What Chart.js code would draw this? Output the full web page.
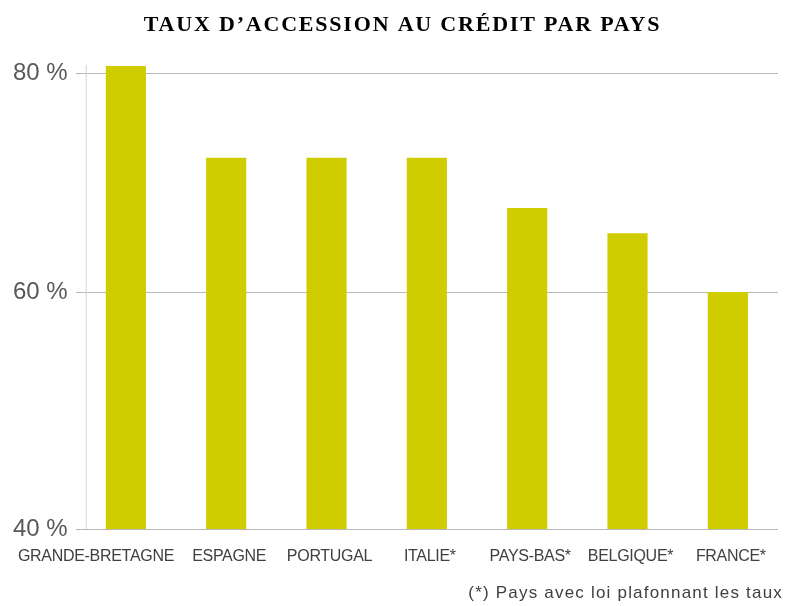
<!DOCTYPE html>
<html lang="fr">
<head>
<meta charset="utf-8">
<title>Taux d'accession au crédit par pays</title>
<script src="https://cdn.jsdelivr.net/npm/chart.js@4/dist/chart.umd.min.js"></script>
<style>
  html, body { margin: 0; padding: 0; background: #fff; }
  #graf { display: block; }
</style>
</head>
<body>
<canvas id="graf" width="785" height="606"></canvas>
<script>
// pays et taux d'accession (%)
var pays = ["GRANDE-BRETAGNE", "ESPAGNE", "PORTUGAL", "ITALIE*", "PAYS-BAS*", "BELGIQUE*", "FRANCE*"];
var taux = [80.7, 72.3, 72.3, 72.3, 67.7, 65.4, 60];

// axe vertical : le bas de l'axe est libellé 40 %
var yMin = 38.3;
var yMax = 80.8;
var yTicks = [yMin, 60, 80];
var yLabels = ["40 %", "60 %", "80 %"];

var titre = "TAUX D\u2019ACCESSION AU CRÉDIT PAR PAYS";
var note = "(*) Pays avec loi plafonnant les taux";

var sans = "'Liberation Sans', Arial, sans-serif";
var serif = "'Liberation Serif', 'Times New Roman', serif";

// trait vertical de l'axe, un peu décalé dans la zone du graphique
var axeVertical = {
    id: "axeVertical",
    beforeDatasetsDraw: function (chart) {
        var ctx = chart.ctx;
        var a = chart.chartArea;
        ctx.save();
        ctx.strokeStyle = "#d4d4d4";
        ctx.lineWidth = 1;
        ctx.beginPath();
        ctx.moveTo(a.left + 10.5, a.top);
        ctx.lineTo(a.left + 10.5, a.bottom);
        ctx.stroke();
        ctx.restore();
    }
};

// titre, libellés des pays et note, avec un interlettrage réglé à la main
var textes = {
    id: "textes",
    afterDraw: function (chart) {
        var ctx = chart.ctx;
        var a = chart.chartArea;
        var x = chart.scales.x;

        ctx.save();
        ctx.textBaseline = "alphabetic";

        ctx.fillStyle = "#000";
        ctx.font = "bold 22px " + serif;
        ctx.letterSpacing = "1.8px";
        ctx.textAlign = "center";
        ctx.fillText(titre, chart.width / 2 + 10, 31);

        ctx.fillStyle = "#404040";
        ctx.font = "16px " + sans;
        ctx.letterSpacing = "-0.3px";
        var demi = (x.getPixelForValue(1) - x.getPixelForValue(0)) / 2;
        pays.forEach(function (p, i) {
            var cx = x.getPixelForValue(i);
            var w = ctx.measureText(p).width;
            if (w > 2 * demi) {
                // libellé trop large : calé à droite sur la limite de sa catégorie
                ctx.textAlign = "right";
                ctx.fillText(p, cx + demi - 2, a.bottom + 32);
            } else {
                ctx.textAlign = "center";
                ctx.fillText(p, cx + 3, a.bottom + 32);
            }
        });

        ctx.font = "17px " + sans;
        ctx.letterSpacing = "1.2px";
        ctx.textAlign = "right";
        ctx.fillText(note, chart.width - 2, 598);
        ctx.restore();
    }
};

new Chart(document.getElementById("graf"), {
    type: "bar",
    data: {
        labels: pays,
        datasets: [{
            data: taux,
            backgroundColor: "#cfcc00",
            borderWidth: 0,
            barPercentage: 0.4,
            categoryPercentage: 1
        }]
    },
    options: {
        responsive: false,
        animation: false,
        layout: { padding: { left: 5, right: 7, top: 65, bottom: 77 } },
        plugins: {
            legend: { display: false },
            tooltip: { enabled: false },
            title: { display: false }
        },
        scales: {
            x: {
                grid: { display: false, drawTicks: false },
                border: { display: false },
                ticks: { display: false }
            },
            y: {
                min: yMin,
                max: yMax,
                afterBuildTicks: function (scale) {
                    scale.ticks = yTicks.map(function (v) { return { value: v }; });
                },
                grid: { color: "#b8b8b8", lineWidth: 1, drawTicks: false },
                border: { display: false },
                ticks: {
                    color: "#595959",
                    font: { family: sans, size: 24 },
                    padding: 8,
                    callback: function (v) {
                        return yLabels[yTicks.indexOf(v)];
                    }
                }
            }
        }
    },
    plugins: [axeVertical, textes]
});
</script>
</body>
</html>
